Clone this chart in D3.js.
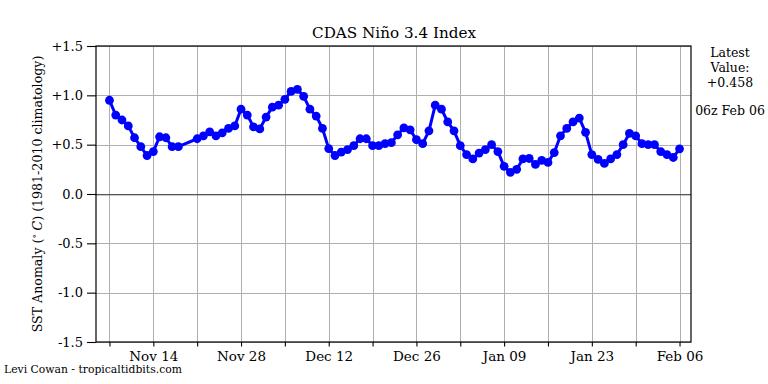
<!DOCTYPE html>
<html>
<head>
<meta charset="utf-8">
<script src="https://cdn.jsdelivr.net/npm/d3@7"></script>
<style>
body { margin: 0; background: #fff; }
text { font-family: "DejaVu Serif", serif; fill: #000; }
</style>
</head>
<body>
<script>
// days since the first observation (Nov 07); Nov 19-20 missing
var days = [0,1,2,3,4,5,6,7,8,9,10,11,
	14,15,16,17,18,19,20,21,22,23,24,25,26,27,28,29,30,31,32,33,34,35,36,37,38,39,40,
	41,42,43,44,45,46,47,48,49,50,51,52,53,54,55,56,57,58,59,60,61,62,63,64,65,66,67,
	68,69,70,71,72,73,74,75,76,77,78,79,80,81,82,83,84,85,86,87,88,89,90,91];
var anom = [0.95,0.80,0.75,0.69,0.57,0.48,0.39,0.43,0.58,0.57,0.48,0.48,
	0.56,0.59,0.63,0.59,0.62,0.665,0.69,0.86,0.80,0.68,0.66,0.78,0.88,0.90,0.96,1.04,1.06,0.99,0.86,0.79,0.665,0.46,0.39,0.425,0.45,0.49,0.56,
	0.56,0.49,0.49,0.51,0.52,0.60,0.67,0.65,0.55,0.51,0.64,0.90,0.86,0.73,0.64,0.49,0.40,0.355,0.415,0.45,0.50,0.43,0.28,0.22,0.25,0.355,0.36,
	0.30,0.34,0.32,0.42,0.59,0.665,0.73,0.77,0.625,0.40,0.35,0.31,0.355,0.40,0.50,0.615,0.59,0.51,0.50,0.50,0.43,0.40,0.37,0.458];
var yTicks = [-1.5,-1.0,-0.5,0.0,0.5,1.0,1.5];
var yLabels = ["-1.5","-1.0","-0.5","0.0","+0.5","+1.0","+1.5"];
var start = "2018-11-07";
var latest = ["Latest", "Value:", "+0.458"];
var stamp = "06z Feb 06";

var W = 768, H = 384;
var m = { l: 96, r: 691, t: 46, b: 342 };
var day = 864e5;
var t0 = d3.utcParse("%Y-%m-%d")(start);
var data = days.map(function(d, i) { return { t: new Date(+t0 + d * day), v: anom[i] }; });

var svg = d3.select("body").append("svg").attr("width", W).attr("height", H);

var x = d3.scaleUtc()
	.domain([new Date(+t0 - 2.15 * day), new Date(+t0 + 92.83 * day)])
	.range([m.l, m.r]);
var y = d3.scaleLinear().domain([-1.5, 1.5]).range([m.b, m.t]);

var weekly = d3.utcDay.range(t0, new Date(+t0 + 92 * day), 7);

// grid as filled rects //{{{
var g_grid = svg.append("g").attr("id", "g_grid");
g_grid.selectAll(".gx").data(weekly).join("rect").attr("class", "gx")
	.attr("x", function(d) { return Math.round(x(d)); }).attr("y", m.t)
	.attr("width", 1).attr("height", m.b - m.t).attr("fill", "#b0b0b0");
g_grid.selectAll(".gy").data(yTicks).join("rect").attr("class", "gy")
	.attr("x", m.l).attr("y", function(d) { return Math.round(y(d)); })
	.attr("width", m.r - m.l).attr("height", function(d) { return d === 0 ? 1.3 : 1; })
	.attr("fill", function(d) { return d === 0 ? "#555555" : "#b0b0b0"; });
//}}}
// series //{{{
var line = d3.line().x(function(d) { return x(d.t); }).y(function(d) { return y(d.v); });
svg.append("path").datum(data).attr("d", line)
	.attr("fill", "none").attr("stroke", "#0000ff").attr("stroke-width", 3).attr("stroke-linejoin", "round");
svg.append("g").selectAll("circle").data(data).enter().append("circle")
	.attr("cx", function(d) { return x(d.t); }).attr("cy", function(d) { return y(d.v); })
	.attr("r", 4.4).attr("fill", "#0000ff");
//}}}
// axes //{{{
svg.append("rect").attr("x", m.l).attr("y", m.t).attr("width", m.r - m.l).attr("height", m.b - m.t)
	.attr("fill", "none").attr("stroke", "#000").attr("stroke-width", 1.2);

var xAxis = d3.axisBottom(x).tickValues(weekly).tickSize(4.5).tickPadding(5)
	.tickFormat(function(d, i) { return i % 2 ? d3.utcFormat("%b %d")(d) : ""; });
var gX = svg.append("g").attr("transform", "translate(0," + m.b + ")").call(xAxis);
gX.select(".domain").remove();
gX.selectAll("line").attr("stroke", "#000").attr("stroke-width", 1.1);
gX.selectAll("text").attr("font-family", "DejaVu Serif").attr("font-size", 13.5).attr("fill", "#000");

var yAxis = d3.axisLeft(y).tickValues(yTicks).tickSize(9).tickPadding(4)
	.tickFormat(function(d, i) { return yLabels[i]; });
var gY = svg.append("g").attr("transform", "translate(" + m.l + ",0)").call(yAxis);
gY.select(".domain").remove();
gY.selectAll("line").attr("stroke", "#000").attr("stroke-width", 1.1);
gY.selectAll("text").attr("font-family", "DejaVu Serif").attr("font-size", 13).attr("fill", "#000");
//}}}
// texts //{{{
svg.append("text").attr("x", (m.l + m.r) / 2 + 0.5).attr("y", 38).attr("text-anchor", "middle")
	.style("font-size", "15.2px").text("CDAS Niño 3.4 Index");

var ylab = svg.append("text").attr("transform", "translate(41.5," + ((m.t + m.b) / 2) + ") rotate(-90)")
	.attr("text-anchor", "middle").style("font-size", "12.6px");
ylab.append("tspan").text("SST Anomaly (");
ylab.append("tspan").attr("dy", -5).style("font-size", "8.5px").text("\u2218");
ylab.append("tspan").attr("dy", 5).style("font-style", "italic").text(" C");
ylab.append("tspan").text(") (1981-2010 climatology)");

svg.append("g").selectAll("text").data(latest).enter().append("text")
	.attr("x", 730).attr("y", function(d, i) { return 56.5 + i * 15; })
	.attr("text-anchor", "middle").style("font-size", "12.5px").text(function(d) { return d; });
svg.append("text").attr("x", 730).attr("y", 115).attr("text-anchor", "middle")
	.style("font-size", "12.5px").text(stamp);

svg.append("text").attr("x", 4).attr("y", 373).style("font-size", "10.8px")
	.text("Levi Cowan - tropicaltidbits.com");
//}}}
</script>
</body>
</html>
